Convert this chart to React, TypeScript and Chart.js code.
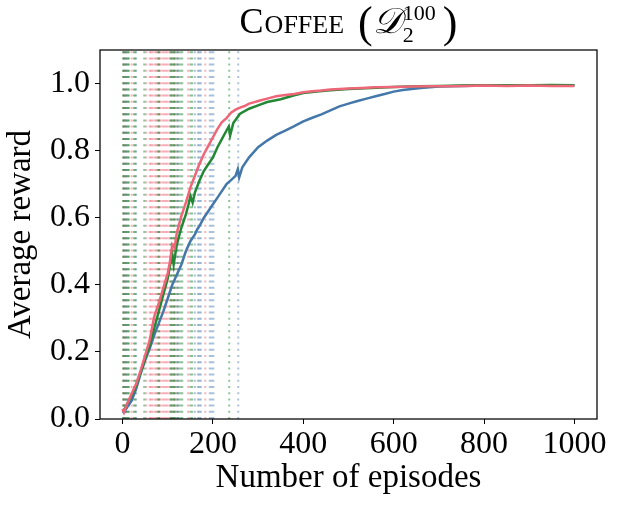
import { useEffect, useRef } from 'react';
import { Chart, registerables } from 'chart.js';

Chart.register(...registerables);

// ---------- data ----------
const X_TICKS = [0, 200, 400, 600, 800, 1000];
const Y_TICKS = [0, 0.2, 0.4, 0.6, 0.8, 1.0];

const RED_X = [0, 3, 10, 20, 30, 40, 50, 60, 70, 80, 90, 100, 105, 110, 115, 120, 130, 140, 150, 160, 170, 180, 190, 200, 210, 220, 230, 240, 250, 260, 270, 280, 290, 300, 320, 340, 360, 380, 400, 420, 440, 460, 480, 500, 530, 560, 600, 640, 680, 720, 760, 800, 850, 900, 950, 1000];
const RED_Y = [0.03, 0.02, 0.045, 0.075, 0.105, 0.145, 0.19, 0.235, 0.305, 0.345, 0.39, 0.435, 0.47, 0.52, 0.51, 0.555, 0.605, 0.645, 0.69, 0.725, 0.76, 0.79, 0.815, 0.84, 0.865, 0.885, 0.897, 0.913, 0.922, 0.928, 0.933, 0.94, 0.944, 0.948, 0.955, 0.962, 0.966, 0.969, 0.974, 0.977, 0.979, 0.982, 0.984, 0.985, 0.987, 0.989, 0.99, 0.991, 0.992, 0.992, 0.993, 0.994, 0.993, 0.994, 0.993, 0.993];

const GREEN_X = [0, 3, 10, 20, 30, 40, 50, 60, 70, 80, 90, 100, 106, 110, 113, 120, 130, 140, 146, 150, 155, 160, 170, 180, 190, 200, 210, 220, 230, 235, 238, 245, 260, 280, 300, 320, 350, 380, 400, 430, 460, 500, 550, 600, 650, 700, 750, 800, 850, 900, 950, 1000];
const GREEN_Y = [0.03, 0.025, 0.045, 0.07, 0.10, 0.14, 0.18, 0.22, 0.27, 0.32, 0.37, 0.42, 0.465, 0.49, 0.46, 0.52, 0.57, 0.61, 0.64, 0.665, 0.645, 0.675, 0.71, 0.74, 0.76, 0.78, 0.81, 0.835, 0.86, 0.872, 0.845, 0.882, 0.91, 0.925, 0.935, 0.945, 0.953, 0.965, 0.972, 0.976, 0.98, 0.984, 0.987, 0.99, 0.992, 0.993, 0.994, 0.995, 0.995, 0.995, 0.996, 0.995];

const BLUE_X = [0, 3, 10, 20, 30, 40, 50, 60, 70, 80, 90, 100, 110, 120, 125, 130, 140, 150, 160, 165, 170, 180, 190, 200, 210, 220, 230, 240, 250, 255, 258, 265, 280, 300, 320, 340, 360, 380, 400, 420, 440, 460, 480, 500, 520, 540, 560, 580, 600, 620, 640, 660, 680, 700, 750, 800, 850, 900, 950, 1000];
const BLUE_Y = [0.025, 0.02, 0.035, 0.055, 0.09, 0.135, 0.175, 0.21, 0.25, 0.285, 0.32, 0.36, 0.40, 0.43, 0.445, 0.46, 0.50, 0.53, 0.55, 0.565, 0.575, 0.60, 0.62, 0.64, 0.66, 0.68, 0.70, 0.712, 0.725, 0.745, 0.72, 0.75, 0.78, 0.81, 0.83, 0.847, 0.86, 0.873, 0.887, 0.898, 0.908, 0.92, 0.932, 0.94, 0.948, 0.955, 0.962, 0.969, 0.976, 0.981, 0.984, 0.987, 0.989, 0.991, 0.993, 0.994, 0.994, 0.995, 0.995, 0.995];

// episodes marked with vertical dotted lines
const GREEN_MARKS = [1, 4, 8, 12, 14, 25, 28, 48, 78, 81, 105, 108, 110, 114, 115, 122, 128, 132, 150, 154, 236];
const RED_MARKS = [2, 6, 20, 52, 60, 63, 67, 72, 75, 80, 83, 88, 92, 96, 100, 108, 113, 117, 145, 183];
const BLUE_MARKS = [3, 7, 10, 30, 120, 124, 160, 167, 170, 173, 193, 197, 201, 256];

const BLUE = '#4477AA';
const GREEN = '#228833';
const RED = '#EE6677';

const SERIF = '"Liberation Serif", "DejaVu Serif", serif';

const zip = (xs: number[], ys: number[]) =>
  xs.slice(0, Math.min(xs.length, ys.length)).map((x, i) => ({ x, y: ys[i] }));

const markSets = (marks: number[], color: string) =>
  marks.map((e) => ({
    data: [
      { x: e, y: 0 },
      { x: e, y: 1.1 },
    ],
    borderColor: color,
    borderWidth: 2,
    borderDash: [2, 4.2],
    pointRadius: 0,
    order: 10,
  }));

const titlePlugin = {
  id: 'mplTitle',
  afterDraw(chart: any) {
    const { ctx, chartArea } = chart;
    const cx = (chartArea.left + chartArea.right) / 2;
    const base = 33;
    type Piece = { t: string; f: string; dy: number; gap: number; w?: number; stack?: { t: string; f: string; dy: number }[] };
    const pieces: Piece[] = [
      { t: 'C', f: `36px ${SERIF}`, dy: 0, gap: 1 },
      { t: 'OFFEE', f: `26px ${SERIF}`, dy: 0, gap: 14 },
      { t: '(', f: `44px ${SERIF}`, dy: 4, gap: 0 },
      { t: '𝒟', f: `italic 36px ${SERIF}`, dy: 0, gap: 0 },
      {
        t: '',
        f: '',
        dy: 0,
        gap: 6,
        stack: [
          { t: '2', f: `22px ${SERIF}`, dy: 9 },
          { t: '100', f: `22px ${SERIF}`, dy: -13 },
        ],
      },
      { t: ')', f: `44px ${SERIF}`, dy: 4, gap: 0 },
    ];
    ctx.save();
    let total = 0;
    for (const p of pieces) {
      if (p.stack) {
        let w = 0;
        for (const s of p.stack) {
          ctx.font = s.f;
          w = Math.max(w, ctx.measureText(s.t).width);
        }
        p.w = w + 2;
      } else {
        ctx.font = p.f;
        p.w = ctx.measureText(p.t).width;
      }
      total += p.w! + p.gap;
    }
    let x = cx - total / 2;
    ctx.fillStyle = '#000';
    ctx.textBaseline = 'alphabetic';
    ctx.textAlign = 'left';
    for (const p of pieces) {
      if (p.stack) {
        for (const s of p.stack) {
          ctx.font = s.f;
          ctx.fillText(s.t, x + 1, base + s.dy);
        }
      } else {
        ctx.font = p.f;
        ctx.fillText(p.t, x, base + p.dy);
      }
      x += p.w! + p.gap;
    }
    ctx.restore();
  },
};

const framePlugin = {
  id: 'frame',
  afterDatasetsDraw(chart: any) {
    const { ctx, chartArea } = chart;
    ctx.save();
    ctx.strokeStyle = '#000';
    ctx.lineWidth = 1.25;
    ctx.strokeRect(chartArea.left, chartArea.top, chartArea.right - chartArea.left, chartArea.bottom - chartArea.top);
    ctx.restore();
  },
};

export default function App() {
  const ref = useRef<HTMLCanvasElement | null>(null);

  useEffect(() => {
    if (!ref.current) return;
    const curve = (xs: number[], ys: number[], color: string, order: number) => ({
      data: zip(xs, ys),
      borderColor: color,
      borderWidth: 2.5,
      pointRadius: 0,
      tension: 0,
      order,
    });
    const chart = new Chart(ref.current, {
      type: 'line',
      data: {
        datasets: [
          curve(RED_X, RED_Y, RED, 0),
          curve(GREEN_X, GREEN_Y, GREEN, 1),
          curve(BLUE_X, BLUE_Y, BLUE, 2),
          ...markSets(GREEN_MARKS, 'rgba(34,136,51,0.5)'),
          ...markSets(RED_MARKS, 'rgba(238,102,119,0.5)'),
          ...markSets(BLUE_MARKS, 'rgba(68,119,170,0.45)'),
        ] as any,
      },
      options: {
        animation: false,
        responsive: false,
        devicePixelRatio: 1,
        layout: { padding: { left: 0, right: 20, top: 50, bottom: 0 } },
        plugins: {
          legend: { display: false },
          tooltip: { enabled: false },
          title: { display: false },
        },
        scales: {
          x: {
            type: 'linear',
            min: -50,
            max: 1050,
            afterBuildTicks: (s: any) => {
              s.ticks = X_TICKS.map((v) => ({ value: v }));
            },
            afterFit: (s: any) => {
              s.height = 90;
              s.paddingLeft = 0;
              s.paddingRight = 0;
            },
            border: { display: false },
            grid: { drawOnChartArea: false, drawTicks: true, tickLength: 5, color: '#000', lineWidth: 1 },
            ticks: {
              color: '#000',
              font: { family: SERIF, size: 32 },
              padding: 1,
              maxRotation: 0,
              callback: (v: any) => String(v),
            },
            title: {
              display: true,
              text: 'Number of episodes',
              color: '#000',
              font: { family: SERIF, size: 33 },
              padding: { top: 0, bottom: 11 },
            },
          },
          y: {
            type: 'linear',
            min: 0,
            max: 1.1,
            afterBuildTicks: (s: any) => {
              s.ticks = Y_TICKS.map((v) => ({ value: v }));
            },
            afterFit: (s: any) => {
              s.width = 100;
              s.paddingTop = 0;
              s.paddingBottom = 0;
            },
            border: { display: false },
            grid: { drawOnChartArea: false, drawTicks: true, tickLength: 5, color: '#000', lineWidth: 1 },
            ticks: {
              color: '#000',
              font: { family: SERIF, size: 32 },
              padding: 5,
              callback: (v: any) => Number(v).toFixed(1),
            },
            title: {
              display: true,
              text: 'Average reward',
              color: '#000',
              font: { family: SERIF, size: 33 },
              padding: { top: 2, bottom: 0 },
            },
          },
        },
      },
      plugins: [titlePlugin, framePlugin],
    } as any);
    return () => chart.destroy();
  }, []);

  return (
    <div style={{ position: 'absolute', left: 0, top: 0, width: 617, height: 509, background: '#fff' }}>
      <canvas ref={ref} width={617} height={509} style={{ display: 'block', width: 617, height: 509 }} />
    </div>
  );
}
